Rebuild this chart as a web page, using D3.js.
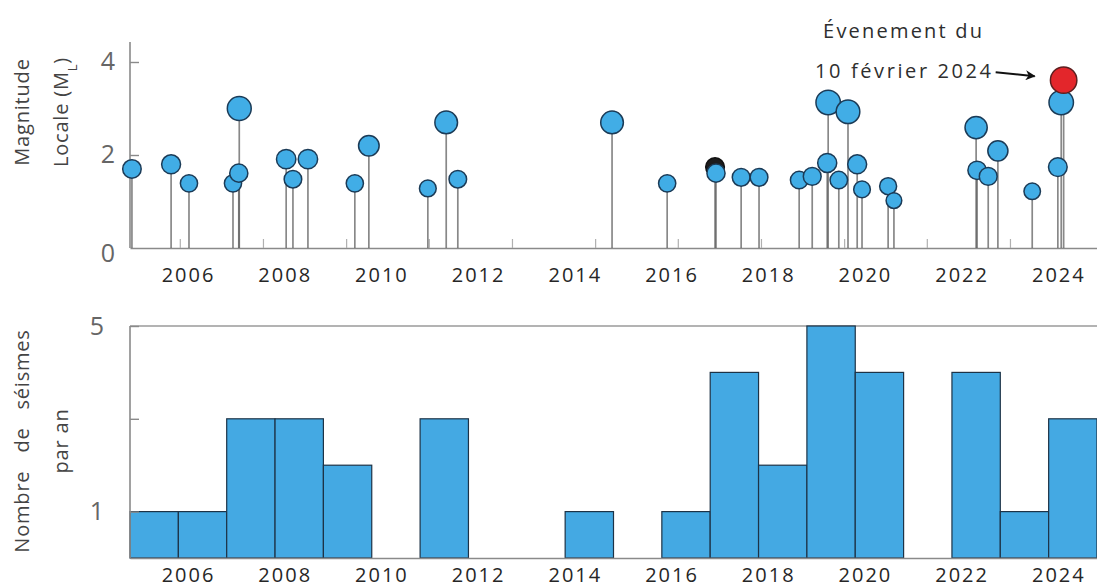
<!DOCTYPE html>
<html>
<head>
<meta charset="utf-8">
<script src="https://cdn.jsdelivr.net/npm/d3@7"></script>
<style>
  body { margin: 0; background: #fff; }
  svg { display: block; font-family: "Open Sans", sans-serif; }
</style>
</head>
<body>
<svg id="chart" width="1097" height="588"></svg>
<script>
// events: decimal year, local magnitude, kind
var eventYears = [2004.84, 2005.65, 2006.02, 2006.93, 2007.06, 2007.05, 2008.03, 2008.17, 2008.48, 2009.45,
  2009.74, 2010.96, 2011.34, 2011.58, 2014.77, 2015.91, 2016.90, 2016.92, 2017.44, 2017.81,
  2018.64, 2018.91, 2019.22, 2019.24, 2019.46, 2019.65, 2019.84, 2019.94, 2020.48, 2020.60,
  2022.30, 2022.32, 2022.55, 2022.75, 2023.46, 2023.99, 2024.06, 2024.11];
var eventMags = [1.70, 1.80, 1.39, 1.39, 3.00, 1.61, 1.91, 1.48, 1.91, 1.39,
  2.20, 1.28, 2.70, 1.48, 2.70, 1.39, 1.74, 1.61, 1.52, 1.52,
  1.46, 1.54, 1.83, 3.13, 1.46, 2.93, 1.80, 1.26, 1.33, 1.02,
  2.59, 1.67, 1.54, 2.09, 1.22, 1.74, 3.13, 3.61];
var eventKinds = ['b', 'b', 'b', 'b', 'b', 'b', 'b', 'b', 'b', 'b',
  'b', 'b', 'b', 'b', 'b', 'b', 'k', 'b', 'b', 'b',
  'b', 'b', 'b', 'b', 'b', 'b', 'b', 'b', 'b', 'b',
  'b', 'b', 'b', 'b', 'b', 'b', 'b', 'r'];

// earthquakes per year
var binYears = [2005, 2006, 2007, 2008, 2009, 2010, 2011, 2012, 2013, 2014,
  2015, 2016, 2017, 2018, 2019, 2020, 2021, 2022, 2023, 2024];
var binCounts = [1, 1, 3, 3, 2, 0, 3, 0, 0, 1,
  0, 1, 4, 2, 5, 4, 0, 4, 1, 3];

var yearTicks = [2006, 2008, 2010, 2012, 2014, 2016, 2018, 2020, 2022, 2024];
// faint leftover tick marks on the magnitude axis
var minorTicks = [2005.83, 2007.55, 2009.27, 2010.98, 2012.70, 2014.42, 2016.13, 2017.85, 2019.57, 2021.28, 2023.0];
var magTicks = [0, 2, 4];
var countTicks = [1, 3, 5];

var svg = d3.select('#chart');

var x = d3.scaleLinear().domain([2004.8, 2024.8]).range([130, 1097]);
var xBin = d3.scaleLinear().domain([2005, 2025]).range([130, 1097]);
var yMag = d3.scaleLinear().domain([0, 4.43]).range([248, 42]);
var yCount = d3.scaleLinear().domain([0, 5]).range([558, 326]);
var r = d3.scaleLinear().domain([1, 3.6]).range([7.8, 13.2]);

var fillColor = { b: '#41ade6', k: '#1c1c1c', r: '#e3262b' };
var strokeColor = { b: '#1b3b57', k: '#111', r: '#5c1f1f' };

var events = eventYears.map(function(d, i) {
  return { year: d, mag: eventMags[i], kind: eventKinds[i] };
});

function styleAxis(g, size, color) {
  g.select('.domain').attr('stroke', '#8a8a8a').attr('stroke-width', 1.6);
  g.selectAll('.tick line').attr('stroke', '#8a8a8a').attr('stroke-width', 1.4);
  g.selectAll('.tick text')
    .attr('font-family', '"Open Sans", sans-serif')
    .attr('font-size', size)
    .attr('fill', color);
}

// ---- top panel: magnitudes ----
var magPanel = svg.append('g');

var xAxisTop = magPanel.append('g')
  .attr('transform', 'translate(0,' + yMag(0) + ')')
  .call(d3.axisBottom(x).tickValues(yearTicks).tickFormat(d3.format('d')).tickSize(0).tickPadding(20));
styleAxis(xAxisTop, 20, '#262626');
xAxisTop.selectAll('.tick text').attr('letter-spacing', '2px');

var minorAxis = magPanel.append('g')
  .attr('transform', 'translate(0,' + yMag(0) + ')')
  .call(d3.axisTop(x).tickValues(minorTicks).tickFormat('').tickSize(9));
minorAxis.select('.domain').remove();
minorAxis.selectAll('.tick line').attr('stroke', '#b0b0b0').attr('stroke-width', 1.2);

var yAxisTop = magPanel.append('g')
  .attr('transform', 'translate(' + x.range()[0] + ',0)')
  .call(d3.axisLeft(yMag).tickValues(magTicks).tickFormat(d3.format('d')).tickSize(-9).tickPadding(15));
styleAxis(yAxisTop, 25, '#666');
yAxisTop.select('.domain').attr('d', 'M0,' + yMag.range()[0] + 'V' + yMag.range()[1]);
yAxisTop.selectAll('.tick').filter(function(d) { return d === 0; }).select('line').remove();
yAxisTop.selectAll('.tick').filter(function(d) { return d === 0; }).select('text').attr('dy', '0.55em');

// stems
magPanel.selectAll('line.stem')
  .data(events)
  .enter()
  .append('line')
  .attr('class', 'stem')
  .attr('x1', function(d) { return x(d.year); })
  .attr('x2', function(d) { return x(d.year); })
  .attr('y1', yMag(0))
  .attr('y2', function(d) { return yMag(d.mag); })
  .attr('stroke', '#555')
  .attr('stroke-opacity', 0.7)
  .attr('stroke-width', 1.7);

// heads
magPanel.selectAll('circle.quake')
  .data(events)
  .enter()
  .append('circle')
  .attr('class', 'quake')
  .attr('cx', function(d) { return x(d.year); })
  .attr('cy', function(d) { return yMag(d.mag); })
  .attr('r', function(d) { return r(d.mag); })
  .attr('fill', function(d) { return fillColor[d.kind]; })
  .attr('stroke', function(d) { return strokeColor[d.kind]; })
  .attr('stroke-width', 1.5);

// y title
magPanel.append('text')
  .attr('transform', 'translate(29,112) rotate(-90)')
  .attr('text-anchor', 'middle')
  .attr('font-size', 20)
  .attr('letter-spacing', '0.8px')
  .attr('fill', '#444')
  .text('Magnitude');

var magTitle2 = magPanel.append('text')
  .attr('transform', 'translate(68,112) rotate(-90)')
  .attr('text-anchor', 'middle')
  .attr('font-size', 20)
  .attr('letter-spacing', '0.8px')
  .attr('fill', '#444');
magTitle2.append('tspan').text('Locale (M');
magTitle2.append('tspan').attr('font-size', 13).attr('baseline-shift', 'sub').text('L');
magTitle2.append('tspan').text(')');

// annotation for the 10 Feb 2024 event
var main = events[events.length - 1];
var mx = x(main.year), my = yMag(main.mag);

svg.append('defs').append('marker')
  .attr('id', 'arrow')
  .attr('viewBox', '0 0 10 10')
  .attr('refX', 9)
  .attr('refY', 5)
  .attr('markerUnits', 'userSpaceOnUse')
  .attr('markerWidth', 13)
  .attr('markerHeight', 10)
  .attr('orient', 'auto')
  .append('path')
  .attr('d', 'M0,0L10,5L0,10L3,5Z')
  .attr('fill', '#111');

magPanel.append('text')
  .attr('x', mx - 160)
  .attr('y', 38)
  .attr('text-anchor', 'middle')
  .attr('font-size', 20)
  .attr('letter-spacing', '2.2px')
  .attr('fill', '#2e2e2e')
  .text('Évenement du');

magPanel.append('text')
  .attr('x', mx - 70)
  .attr('y', 78)
  .attr('text-anchor', 'end')
  .attr('font-size', 20)
  .attr('letter-spacing', '2.6px')
  .attr('fill', '#2e2e2e')
  .text('10 février 2024');

magPanel.append('line')
  .attr('x1', mx - 68)
  .attr('y1', my - 8)
  .attr('x2', mx - 29)
  .attr('y2', my - 4)
  .attr('stroke', '#111')
  .attr('stroke-width', 2)
  .attr('marker-end', 'url(#arrow)');

// ---- bottom panel: counts per year ----
var countPanel = svg.append('g');

countPanel.append('line')
  .attr('x1', xBin.range()[0])
  .attr('x2', xBin.range()[1])
  .attr('y1', yCount(5))
  .attr('y2', yCount(5))
  .attr('stroke', '#9a9a9a')
  .attr('stroke-width', 1.6);

countPanel.selectAll('rect.bin')
  .data(binYears.map(function(d, i) { return { year: d, n: binCounts[i] }; }).filter(function(d) { return d.n > 0; }))
  .enter()
  .append('rect')
  .attr('class', 'bin')
  .attr('x', function(d) { return xBin(d.year); })
  .attr('width', function(d) { return xBin(d.year + 1) - xBin(d.year); })
  .attr('y', function(d) { return yCount(d.n); })
  .attr('height', function(d) { return yCount(0) - yCount(d.n); })
  .attr('fill', '#44a9e3')
  .attr('stroke', '#1d3347')
  .attr('stroke-width', 1.2);

var xAxisBot = countPanel.append('g')
  .attr('transform', 'translate(0,' + yCount(0) + ')')
  .call(d3.axisBottom(x).tickValues(yearTicks).tickFormat(d3.format('d')).tickSize(0).tickPadding(10));
styleAxis(xAxisBot, 20, '#262626');
xAxisBot.selectAll('.tick text').attr('letter-spacing', '2px');

var yAxisBot = countPanel.append('g')
  .attr('transform', 'translate(' + xBin.range()[0] + ',0)')
  .call(d3.axisLeft(yCount).tickValues(countTicks).tickSize(-9).tickPadding(26)
    .tickFormat(function(d) { return d === 3 ? '' : d; }));
styleAxis(yAxisBot, 25, '#666');
yAxisBot.select('.domain').attr('d', 'M0,' + yCount.range()[0] + 'V' + yCount.range()[1]);

countPanel.append('text')
  .attr('transform', 'translate(29,441) rotate(-90)')
  .attr('text-anchor', 'middle')
  .attr('font-size', 20)
  .attr('word-spacing', '12px')
  .attr('letter-spacing', '0.8px')
  .attr('fill', '#444')
  .text('Nombre de séismes');

countPanel.append('text')
  .attr('transform', 'translate(68,441) rotate(-90)')
  .attr('text-anchor', 'middle')
  .attr('font-size', 20)
  .attr('letter-spacing', '0.8px')
  .attr('fill', '#444')
  .text('par an');
</script>
</body>
</html>
